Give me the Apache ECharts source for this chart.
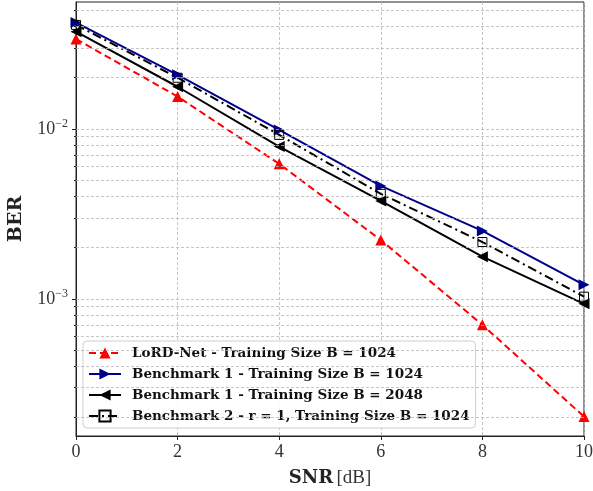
<!DOCTYPE html>
<html><head><meta charset="utf-8">
<script src="https://cdn.jsdelivr.net/npm/echarts@6/dist/echarts.min.js"></script>
<style>html,body{margin:0;padding:0;background:#fff}#c{width:593px;height:491px}</style>
</head><body><div id="c"></div>
<script>
const snr = [0, 2, 4, 6, 8, 10];
const lordNet1024 = [3.38e-2, 1.55e-2, 6.23e-3, 2.22e-3, 7.03e-4, 2.03e-4];
const bench1_1024 = [4.22e-2, 2.08e-2, 9.86e-3, 4.62e-3, 2.51e-3, 1.21e-3];
const bench1_2048 = [3.73e-2, 1.77e-2, 7.87e-3, 3.77e-3, 1.77e-3, 9.35e-4];
const bench2_1024 = [4.09e-2, 2.00e-2, 9.22e-3, 4.15e-3, 2.16e-3, 1.03e-3];
const seriesNames = [
  'LoRD-Net - Training Size B = 1024',
  'Benchmark 1 - Training Size B = 1024',
  'Benchmark 1 - Training Size B = 2048',
  'Benchmark 2 - r = 1, Training Size B = 1024'
];
const xTicks = [0, 2, 4, 6, 8, 10];
const yMajorTicks = [1e-3, 1e-2];
const yMinorTicks = [2e-4,3e-4,4e-4,5e-4,6e-4,7e-4,8e-4,9e-4,2e-3,3e-3,4e-3,5e-3,6e-3,7e-3,8e-3,9e-3,2e-2,3e-2,4e-2,5e-2];

const pair = arr => snr.map((x, i) => [x, arr[i]]);
const serif = 'DejaVu Serif';
const gridStyle = {color: '#b8b8b8', width: 0.8, type: [3, 2]};

const chart = echarts.init(document.getElementById('c'));
chart.setOption({
  animation: false,
  backgroundColor: '#fff',
  grid: {left: 76, right: 9, top: 2, bottom: 55, containLabel: false, outerBoundsMode: 'none',
    show: true, borderColor: '#222', borderWidth: 1, backgroundColor: 'transparent'},
  xAxis: {
    type: 'value', min: 0, max: 10, interval: 2,
    axisLine: {show: true, lineStyle: {color: '#222', width: 1}},
    axisTick: {show: true, inside: false, length: 4, lineStyle: {color: '#222'}},
    axisLabel: {fontFamily: 'Liberation Serif', fontSize: 18, color: '#333', margin: 7},
    splitLine: {show: true, lineStyle: gridStyle},
    name: '{b|SNR} {r|[dB]}', nameLocation: 'middle', nameGap: 33,
    nameTextStyle: {rich: {
      b: {fontFamily: serif, fontWeight: 'bold', fontSize: 18, color: '#222'},
      r: {fontFamily: 'Liberation Serif', fontSize: 19, color: '#333'}
    }}
  },
  yAxis: [{
    type: 'log', logBase: 10, min: 1.56e-4, max: 5.58e-2,
    axisLine: {show: true, lineStyle: {color: '#222', width: 1}},
    axisTick: {show: true, length: 4, customValues: yMajorTicks, lineStyle: {color: '#222'}},
    axisLabel: {
      customValues: yMajorTicks, margin: 8,
      formatter: v => '{b|10}{s|−' + Math.round(-Math.log10(v)) + '}',
      rich: {
        b: {fontFamily: 'Liberation Serif', fontSize: 18, color: '#333'},
        s: {fontFamily: 'Liberation Serif', fontSize: 12, color: '#333', verticalAlign: 'bottom', padding: [0, 0, 10, 0]}
      }
    },
    splitLine: {show: false},
    name: 'BER', nameLocation: 'middle', nameGap: 50,
    nameTextStyle: {fontFamily: serif, fontWeight: 'bold', fontSize: 19, color: '#222'}
  }, {
    type: 'log', logBase: 10, min: 1.56e-4, max: 5.58e-2, position: 'left', offset: 0,
    axisLine: {show: false},
    axisTick: {show: true, length: 2, customValues: yMinorTicks, lineStyle: {color: '#222'}},
    axisLabel: {show: false},
    splitLine: {show: false}
  }],
  legend: {
    data: seriesNames,
    left: 83, top: 341,
    orient: 'vertical',
    padding: [5, 6, 5, 5],
    itemWidth: 32, itemHeight: 14, itemGap: 7,
    backgroundColor: 'rgba(255,255,255,0.85)',
    borderColor: '#cfcfcf', borderWidth: 1, borderRadius: 4,
    textStyle: {fontFamily: serif, fontWeight: 'bold', fontSize: 13.5, color: '#111', padding: [0, 0, 0, 6]}
  },
  series: [
    {
      type: 'line', name: 'grid', data: [], z: 0, silent: true,
      markLine: {
        silent: true, precision: 10, symbol: ['none', 'none'], label: {show: false},
        lineStyle: gridStyle,
        data: yMajorTicks.concat(yMinorTicks).map(v => ({yAxis: v}))
      }
    },
    {
      type: 'line', name: seriesNames[0], data: pair(lordNet1024),
      color: '#ff0000', symbol: 'triangle', symbolSize: 11,
      lineStyle: {color: '#ff0000', width: 2, type: [7, 4]},
      itemStyle: {color: '#ff0000'}
    },
    {
      type: 'line', name: seriesNames[1], data: pair(bench1_1024),
      color: '#00008b', symbol: 'triangle', symbolSize: 11, symbolRotate: -90,
      lineStyle: {color: '#00008b', width: 2, type: 'solid'},
      itemStyle: {color: '#00008b'}
    },
    {
      type: 'line', name: seriesNames[2], data: pair(bench1_2048),
      color: '#000000', symbol: 'triangle', symbolSize: 11, symbolRotate: 90,
      lineStyle: {color: '#000000', width: 2, type: 'solid'},
      itemStyle: {color: '#000000'}
    },
    {
      type: 'line', name: seriesNames[3], data: pair(bench2_1024),
      color: '#000000', symbol: 'rect', symbolSize: 9,
      lineStyle: {color: '#000000', width: 2, type: [9, 4, 2, 4]},
      itemStyle: {color: 'rgba(255,255,255,0)', borderColor: '#000', borderWidth: 1}
    }
  ]
});
</script></body></html>
